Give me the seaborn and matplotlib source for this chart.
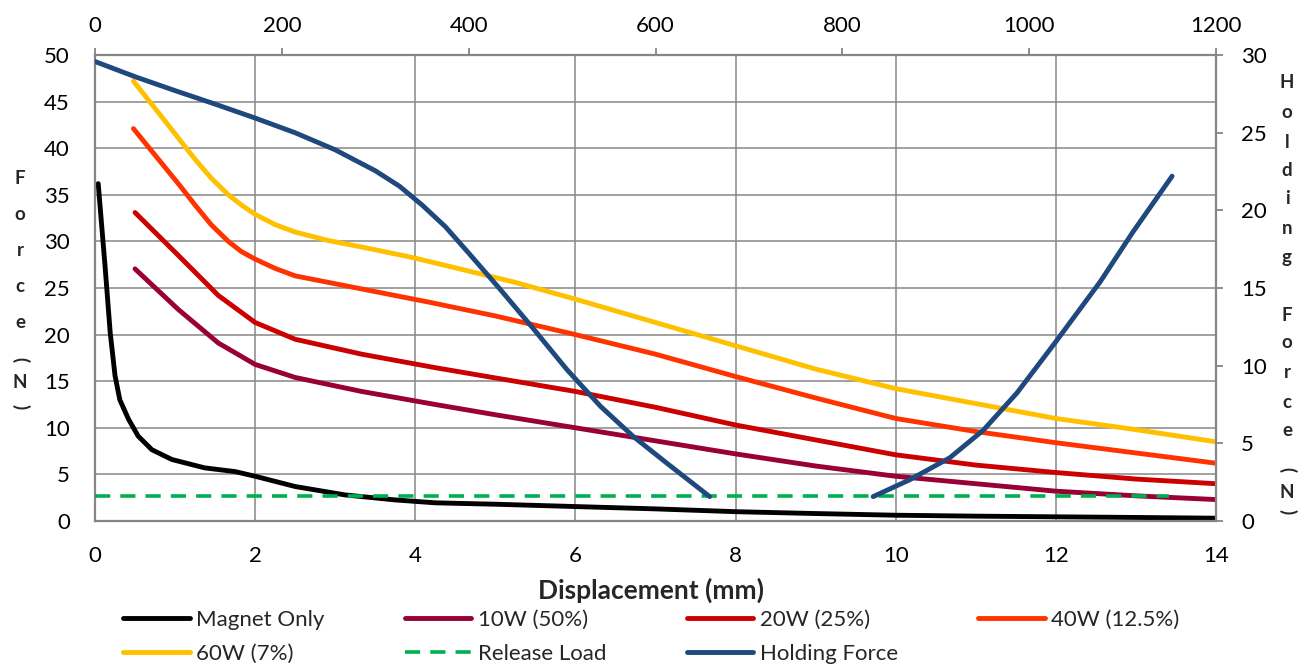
import matplotlib
matplotlib.use("Agg")
import matplotlib.pyplot as plt
import seaborn as sns
import pandas as pd

# ---------------- data ----------------
magnet_x = [0.04, 0.125, 0.19, 0.25, 0.31, 0.42, 0.54, 0.71, 0.96, 1.37, 1.75, 2.0, 2.5, 3.12, 3.75, 4.25, 5.0, 6.0, 7.0, 8.0, 9.0, 10.0, 11.0, 12.0, 13.0, 14.0]
magnet_y = [36.2, 27.4, 20.2, 15.6, 13.0, 10.9, 9.1, 7.65, 6.6, 5.7, 5.3, 4.8, 3.7, 2.8, 2.26, 1.95, 1.8, 1.55, 1.3, 1.0, 0.8, 0.62, 0.52, 0.45, 0.38, 0.3]

w10_x = [0.5, 1.04, 1.54, 2.0, 2.5, 3.33, 4.25, 5.0, 6.0, 7.0, 8.0, 9.0, 10.0, 11.0, 12.0, 13.0, 14.0]
w10_y = [27.05, 22.7, 19.1, 16.8, 15.4, 13.9, 12.5, 11.4, 10.0, 8.6, 7.2, 5.9, 4.8, 4.0, 3.2, 2.7, 2.3]

w20_x = [0.5, 1.04, 1.54, 2.0, 2.5, 3.33, 4.25, 5.0, 6.0, 7.0, 8.0, 9.0, 10.0, 11.0, 12.0, 13.0, 14.0]
w20_y = [33.1, 28.5, 24.2, 21.3, 19.5, 17.9, 16.45, 15.35, 13.9, 12.2, 10.3, 8.7, 7.1, 6.0, 5.2, 4.5, 4.0]

w40_x = [0.48, 1.04, 1.25, 1.45, 1.665, 1.83, 2.0, 2.25, 2.5, 3.33, 4.16, 5.0, 6.0, 7.0, 8.0, 9.0, 10.0, 11.0, 12.0, 13.0, 14.0]
w40_y = [42.1, 36.2, 33.9, 31.8, 30.0, 28.9, 28.1, 27.1, 26.3, 24.9, 23.5, 22.0, 20.0, 17.9, 15.5, 13.2, 11.0, 9.6, 8.4, 7.3, 6.2]

w60_x = [0.48, 0.83, 1.04, 1.25, 1.45, 1.665, 1.83, 2.0, 2.25, 2.5, 2.91, 3.33, 3.95, 4.58, 5.25, 6.0, 7.0, 8.0, 9.0, 10.0, 11.0, 12.0, 13.0, 14.0]
w60_y = [47.2, 43.4, 41.1, 38.8, 36.8, 35.0, 33.9, 32.9, 31.8, 31.0, 30.1, 29.4, 28.3, 27.0, 25.6, 23.8, 21.3, 18.8, 16.3, 14.2, 12.6, 11.0, 9.8, 8.5]

release_x = [0, 1150]
release_y = [1.6, 1.6]

hold1_x = [0, 43, 86, 128, 171, 214, 257, 300, 326, 350, 375, 400, 433.5, 469, 505, 541, 576, 612, 658]
hold1_y = [29.58, 28.6, 27.7, 26.85, 25.95, 25.0, 23.9, 22.55, 21.55, 20.35, 18.95, 17.25, 14.93, 12.4, 9.76, 7.39, 5.45, 3.73, 1.57]
hold2_x = [833, 872, 915, 951, 987, 1028, 1076, 1111, 1153]
hold2_y = [1.57, 2.65, 4.07, 5.85, 8.25, 11.5, 15.4, 18.6, 22.2]

bottom_ticks = [0, 2, 4, 6, 8, 10, 12, 14]
left_ticks = [0, 5, 10, 15, 20, 25, 30, 35, 40, 45, 50]
top_ticks = [0, 200, 400, 600, 800, 1000, 1200]
right_ticks = [0, 5, 10, 15, 20, 25, 30]

# ---------------- style ----------------
sns.set_theme(style="white")
plt.rcParams['font.family'] = ['Lato', 'DejaVu Sans']
FS = 16
GREY = '#868686'

W, H = 1304, 666
fig = plt.figure(figsize=(W / 100, H / 100), dpi=100)
L, R, T, B = 95, 1216, 55, 521
pos = [L / W, 1 - B / H, (R - L) / W, (B - T) / H]
ax = fig.add_axes(pos)
ax2 = fig.add_axes(pos, frameon=False)

lw = 3.5
common = dict(linewidth=lw, solid_capstyle='round', solid_joinstyle='round',
              legend=False, sort=False, estimator=None)

series = [
    ("Magnet Only", magnet_x, magnet_y, 'black'),
    ("10W (50%)", w10_x, w10_y, '#990033'),
    ("20W (25%)", w20_x, w20_y, '#CC0000'),
    ("40W (12.5%)", w40_x, w40_y, '#FF3300'),
    ("60W (7%)", w60_x, w60_y, '#FFC000'),
]
for name, xs, ys, col in series:
    df = pd.DataFrame({'x': xs, 'y': ys})
    sns.lineplot(data=df, x='x', y='y', ax=ax, color=col, label=name, **common)

df_rel = pd.DataFrame({'x': release_x, 'y': release_y})
sns.lineplot(data=df_rel, x='x', y='y', ax=ax2, color='#00B050', label='Release Load',
             linewidth=2.6, legend=False, sort=False, estimator=None)
ax2.lines[-1].set_dashes((4.2, 2.8))
ax2.lines[-1].set_dash_capstyle('butt')

df_h1 = pd.DataFrame({'x': hold1_x, 'y': hold1_y})
df_h2 = pd.DataFrame({'x': hold2_x, 'y': hold2_y})
sns.lineplot(data=df_h1, x='x', y='y', ax=ax2, color='#1F497D', label='Holding Force', **common)
sns.lineplot(data=df_h2, x='x', y='y', ax=ax2, color='#1F497D', **common)

# primary axes
ax.set_xlim(0, 14)
ax.set_ylim(0, 50)
ax.set_xticks(bottom_ticks)
ax.set_yticks(left_ticks)
ax.set_xlabel('')
ax.set_ylabel('')
ax.grid(True, color=GREY, linewidth=1.1)
ax.set_axisbelow(True)
ax.tick_params(axis='both', length=0, labelsize=FS, colors='black')
ax.tick_params(axis='x', pad=18)
ax.tick_params(axis='y', pad=18)
for s in ax.spines.values():
    s.set_color(GREY)
    s.set_linewidth(1.6)
    s.set_visible(True)

# secondary axes
ax2.set_xlim(0, 1200)
ax2.set_ylim(0, 30)
ax2.set_xticks(top_ticks)
ax2.set_yticks(right_ticks)
ax2.xaxis.set_ticks_position('top')
ax2.xaxis.set_label_position('top')
ax2.yaxis.set_ticks_position('right')
ax2.yaxis.set_label_position('right')
ax2.set_xlabel('')
ax2.set_ylabel('')
ax2.grid(False)
ax2.tick_params(axis='both', direction='out', length=5, width=1.3, color=GREY,
                labelsize=FS, labelcolor='black')
ax2.tick_params(axis='x', pad=9)
ax2.tick_params(axis='y', pad=13)
ax2.patch.set_visible(False)

# axis titles
fig.text(651 / W, 1 - 590 / H, 'Displacement (mm)', ha='center', va='center',
         fontsize=19, fontweight='bold')

def stacked(x, items):
    for ch, y in items:
        rot = -90 if ch in '()' else 0
        fig.text(x / W, 1 - y / H, ch, ha='center', va='center', fontsize=13.5,
                 fontweight='bold', rotation=rot, rotation_mode='anchor')

stacked(20, [('F', 178), ('o', 214), ('r', 250), ('c', 286), ('e', 322),
             ('(', 360), ('N', 383), (')', 407)])
stacked(1287, [('H', 83), ('o', 113), ('l', 142), ('d', 170), ('i', 198), ('n', 228),
               ('g', 258), ('F', 315), ('o', 343), ('r', 373), ('c', 402), ('e', 430),
               ('(', 470), ('N', 493), (')', 512)])

# legend
h1, l1 = ax.get_legend_handles_labels()
h2, l2 = ax2.get_legend_handles_labels()
hd = dict(zip(l1 + l2, h1 + h2))
order = ["Magnet Only", "60W (7%)", "10W (50%)", "Release Load",
         "20W (25%)", "Holding Force", "40W (12.5%)"]
fig.legend([hd[k] for k in order], order, ncol=4, loc='upper left',
           bbox_to_anchor=(123 / W, 1 - 610 / H), frameon=False, fontsize=FS,
           handlelength=3.0, handletextpad=0.3, columnspacing=3.6,
           labelspacing=0.62, borderpad=0, borderaxespad=0)

fig.savefig('out.png', dpi=100)
